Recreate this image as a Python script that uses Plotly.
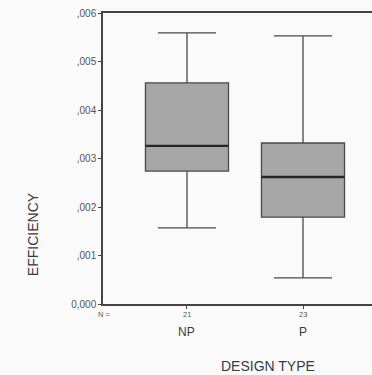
import plotly.graph_objects as go

categories = ["NP", "P"]
n_counts = ["21", "23"]
lower_whisker = [0.00157, 0.00054]
q1 = [0.00274, 0.00179]
median = [0.00326, 0.00262]
q3 = [0.00456, 0.00332]
upper_whisker = [0.00559, 0.00553]
y_tickvals = [0.000, 0.001, 0.002, 0.003, 0.004, 0.005, 0.006]
y_ticktext = ["0,000", ",001", ",002", ",003", ",004", ",005", ",006"]

FONT = "Liberation Sans, Arial, sans-serif"
TXT = "#3a3a3a"

fig = go.Figure()
fig.add_trace(go.Box(
    x=categories,
    q1=q1, median=median, q3=q3,
    lowerfence=lower_whisker, upperfence=upper_whisker,
    width=0.716,
    whiskerwidth=0.7,
    fillcolor="#a6a6a6",
    line=dict(color="#4a4a4a", width=1.3),
    boxpoints=False,
    hoverinfo="skip",
    showlegend=False,
))
# thicker, darker median bar drawn from the same median values
fig.add_trace(go.Box(
    x=categories,
    q1=median, median=median, q3=median,
    lowerfence=median, upperfence=median,
    width=0.716,
    whiskerwidth=0,
    fillcolor="rgba(0,0,0,0)",
    line=dict(color="#262626", width=2.4),
    boxpoints=False,
    hoverinfo="skip",
    showlegend=False,
))

fig.update_layout(
    width=390, height=375,
    margin=dict(l=103, r=0, t=13, b=71),
    paper_bgcolor="#fafafa",
    plot_bgcolor="#fafafa",
    font=dict(family=FONT, color=TXT),
    boxmode="overlay",
    xaxis=dict(
        type="category",
        range=[-0.724, 1.750],
        showgrid=False, zeroline=False,
        showline=True, linecolor="#444", linewidth=1.5, mirror=True,
        ticks="outside", ticklen=3, tickcolor="#444",
        showticklabels=False,
    ),
    yaxis=dict(
        range=[0, 0.006],
        tickvals=y_tickvals, ticktext=y_ticktext,
        showgrid=False, zeroline=False,
        showline=True, linecolor="#444", linewidth=1.5,
        ticks="outside", ticklen=3, tickcolor="#444",
        tickfont=dict(size=10, color="#555"),
    ),
)

A = dict(showarrow=False, xanchor="center", yanchor="middle")
annotations = []
for c, n in zip(categories, n_counts):
    annotations.append(dict(x=c, y=0, xref="x", yref="paper", yshift=-10,
                            text=n, font=dict(size=7.5, color="#555"), **A))
    annotations.append(dict(x=c, y=0, xref="x", yref="paper", yshift=-28,
                            text=c, font=dict(size=12, color=TXT), **A))
annotations.append(dict(x=0.0035, y=0, xref="paper", yref="paper", yshift=-10,
                        text="N =", font=dict(size=7.5, color="#555"), **A))
annotations.append(dict(x=0.575, y=0, xref="paper", yref="paper", yshift=-62,
                        text="DESIGN TYPE", font=dict(size=14, color=TXT), **A))
annotations.append(dict(x=-0.244, y=0.24, xref="paper", yref="paper",
                        text="EFFICIENCY", textangle=-90,
                        font=dict(size=14, color=TXT), **A))
fig.update_layout(annotations=annotations)

fig.write_html(
    "out.html",
    config={"displayModeBar": False},
    post_script="document.body.style.margin='0';document.body.style.overflow='hidden';",
)
